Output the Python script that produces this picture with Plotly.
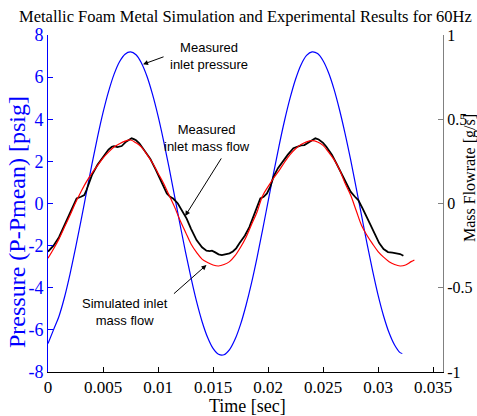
import plotly.graph_objects as go

# ---------------- data ----------------
t_pressure = [0.0, 0.0005, 0.001, 0.0015, 0.002, 0.0025, 0.003, 0.0035, 0.004, 0.0045,
              0.005, 0.0055, 0.006, 0.0065, 0.007, 0.0075, 0.008, 0.0085, 0.009, 0.0095,
              0.010, 0.0105, 0.011, 0.0115, 0.012, 0.0125, 0.013, 0.0135, 0.014, 0.0145,
              0.015, 0.0155, 0.016, 0.0165, 0.017, 0.0175, 0.018, 0.0185, 0.019, 0.0195,
              0.020, 0.0205, 0.021, 0.0215, 0.022, 0.0225, 0.023, 0.0235, 0.024, 0.0245,
              0.025, 0.0255, 0.026, 0.0265, 0.027, 0.0275, 0.028, 0.0285, 0.029, 0.0295,
              0.030, 0.0305, 0.031, 0.0315, 0.032, 0.0322]
pressure = [-6.65, -6.0, -5.35, -4.45, -3.35, -2.12, -0.81, 0.54, 1.88, 3.15,
            4.31, 5.31, 6.13, 6.73, 7.09, 7.20, 7.06, 6.66, 6.03, 5.18,
            4.16, 2.99, 1.71, 0.36, -0.99, -2.31, -3.53, -4.65, -5.60, -6.35,
            -6.88, -7.16, -7.18, -6.94, -6.45, -5.74, -4.83, -3.77, -2.57, -1.26,
            0.09, 1.44, 2.74, 3.94, 5.00, 5.90, 6.59, 7.03, 7.20, 7.12,
            6.78, 6.21, 5.42, 4.44, 3.32, 2.09, 0.77, -0.58, -1.92, -3.19,
            -4.35, -5.34, -6.14, -6.72, -7.08, -7.12]

t_sim = [0.0, 0.0005, 0.001, 0.0015, 0.002, 0.0025, 0.003, 0.0035, 0.004, 0.0045,
         0.005, 0.0055, 0.006, 0.0065, 0.007, 0.0075, 0.008, 0.0085, 0.009, 0.0095,
         0.010, 0.0105, 0.011, 0.0115, 0.012, 0.0125, 0.013, 0.0135, 0.014, 0.0145,
         0.015, 0.0155, 0.016, 0.0165, 0.017, 0.0175, 0.018, 0.0185, 0.019, 0.0195,
         0.020, 0.0205, 0.021, 0.0215, 0.022, 0.0225, 0.023, 0.0235, 0.024, 0.0245,
         0.025, 0.0255, 0.026, 0.0265, 0.027, 0.0275, 0.028, 0.0285, 0.029, 0.0295,
         0.030, 0.0305, 0.031, 0.0315, 0.032, 0.0325, 0.033, 0.0333]
sim_flow = [-0.325, -0.27, -0.21, -0.14, -0.07, 0.005, 0.07, 0.13, 0.18, 0.225,
            0.27, 0.305, 0.335, 0.355, 0.37, 0.377, 0.36, 0.335, 0.29, 0.24,
            0.18, 0.12, 0.05, -0.02, -0.10, -0.17, -0.24, -0.29, -0.33, -0.35,
            -0.365, -0.371, -0.362, -0.345, -0.31, -0.26, -0.20, -0.125, -0.05, 0.045,
            0.10, 0.15, 0.195, 0.245, 0.29, 0.325, 0.35, 0.366, 0.373, 0.365,
            0.345, 0.305, 0.26, 0.20, 0.12, 0.05, -0.04, -0.13, -0.19, -0.24,
            -0.285, -0.318, -0.345, -0.362, -0.371, -0.365, -0.345, -0.335]

t_meas = [0.0, 0.0005, 0.001, 0.0015, 0.002, 0.0023, 0.0026, 0.003, 0.0033, 0.0035,
          0.0038, 0.004, 0.0045, 0.005, 0.0055, 0.0058, 0.006, 0.0063, 0.0067, 0.0071,
          0.0074, 0.0076, 0.0078, 0.008, 0.0083, 0.0088, 0.0093, 0.0098, 0.0103, 0.0108,
          0.0111, 0.0114, 0.0118, 0.0122, 0.0126, 0.013, 0.0135, 0.014, 0.0144, 0.0147,
          0.0149, 0.0152, 0.0155, 0.0158, 0.0161, 0.0165, 0.0168, 0.0171, 0.0174, 0.0179,
          0.0183, 0.0187, 0.019, 0.0193, 0.0196, 0.0199, 0.0202, 0.0205, 0.0209, 0.0214,
          0.0218, 0.0223, 0.0227, 0.023, 0.0233, 0.0236, 0.024, 0.0243, 0.0246, 0.025,
          0.0253, 0.0258, 0.0262, 0.0265, 0.027, 0.0275, 0.0279, 0.0282, 0.0286, 0.029,
          0.0293, 0.0297, 0.0301, 0.0305, 0.0309, 0.0313, 0.0317, 0.032, 0.0323]
meas_flow = [-0.286, -0.25, -0.20, -0.13, -0.05, -0.01, 0.03, 0.04, 0.05, 0.08,
             0.14, 0.17, 0.23, 0.278, 0.32, 0.337, 0.34, 0.335, 0.341, 0.367,
             0.38, 0.387, 0.382, 0.375, 0.357, 0.31, 0.265, 0.20, 0.13, 0.06,
             0.04, 0.028, 0.0, -0.045, -0.09, -0.15, -0.217, -0.26, -0.28, -0.283,
             -0.28, -0.29, -0.302, -0.306, -0.302, -0.296, -0.285, -0.266, -0.236, -0.19,
             -0.14, -0.07, -0.01, 0.03, 0.04, 0.06, 0.10, 0.159, 0.21, 0.258,
             0.29, 0.328, 0.338, 0.345, 0.347, 0.36, 0.378, 0.387, 0.38, 0.36,
             0.337, 0.29, 0.24, 0.199, 0.13, 0.07, 0.04, 0.02, -0.03, -0.09,
             -0.125, -0.18, -0.235, -0.27, -0.288, -0.292, -0.295, -0.30, -0.31]

x_tickvals = [0, 0.005, 0.01, 0.015, 0.02, 0.025, 0.03, 0.035]
x_ticktext = ["0", "0.005", "0.01", "0.015", "0.02", "0.025", "0.03", "0.035"]
y_tickvals = [-8, -6, -4, -2, 0, 2, 4, 6, 8]
y_ticktext = ["-8", "-6", "-4", "-2", "0", "2", "4", "6", "8"]
y2_tickvals = [-1, -0.5, 0, 0.5, 1]
y2_ticktext = ["-1", "-0.5", "0", "0.5", "1"]

SERIF = "Liberation Serif, Times New Roman, serif"
SANS = "Liberation Sans, Arial, sans-serif"

fig = go.Figure()
fig.add_trace(go.Scatter(x=t_pressure, y=pressure, mode="lines", line=dict(color="#0000FF", width=1.2, shape="spline"),
                         name="Measured inlet pressure", yaxis="y"))
fig.add_trace(go.Scatter(x=t_meas, y=meas_flow, mode="lines", line=dict(color="#000000", width=1.8),
                         name="Measured inlet mass flow", yaxis="y2"))
fig.add_trace(go.Scatter(x=t_sim, y=sim_flow, mode="lines", line=dict(color="#FF0000", width=1.2, shape="spline"),
                         name="Simulated inlet mass flow", yaxis="y2"))

fig.update_layout(
    width=477, height=416,
    margin=dict(l=48, r=34, t=35, b=44),
    paper_bgcolor="white", plot_bgcolor="white",
    showlegend=False,
    xaxis=dict(range=[0, 0.0359], tickvals=x_tickvals, ticktext=x_ticktext, automargin=False,
               ticks="inside", ticklen=5, tickcolor="#000000", showline=True, linecolor="#000000",
               linewidth=1, showgrid=False, zeroline=False, mirror=False,
               tickfont=dict(family=SERIF, size=17, color="#000000")),
    yaxis=dict(range=[-8, 8], tickvals=y_tickvals, ticktext=y_ticktext, automargin=False,
               ticks="inside", ticklen=5, tickcolor="#0000FF", showline=True, linecolor="#0000FF",
               linewidth=1, showgrid=False, zeroline=False,
               tickfont=dict(family=SERIF, size=18, color="#0000FF")),
    yaxis2=dict(range=[-1, 1], tickvals=y2_tickvals, ticktext=y2_ticktext, overlaying="y", side="right",
                automargin=False,
                ticks="inside", ticklen=5, tickcolor="#808080", showline=True, linecolor="#808080",
                linewidth=1, showgrid=False, zeroline=False,
                tickfont=dict(family=SERIF, size=16, color="#000000")),
)

annotations = [
    dict(text="Metallic Foam Metal Simulation and Experimental Results for 60Hz", xref="paper", yref="paper",
         x=(245 - 48) / 395, y=(372 - 17) / 337, xanchor="center", yanchor="middle", showarrow=False,
         font=dict(family=SERIF, size=16.5, color="#000000")),
    dict(text="Pressure (P-Pmean) [psig]", xref="paper", yref="paper", textangle=-90,
         x=(17 - 48) / 395, y=(372 - 222) / 337, xanchor="center", yanchor="middle", showarrow=False,
         font=dict(family=SERIF, size=24, color="#0000FF")),
    dict(text="Mass Flowrate [g/s]", xref="paper", yref="paper", textangle=-90,
         x=(470 - 48) / 395, y=(372 - 178) / 337, xanchor="center", yanchor="middle", showarrow=False,
         font=dict(family=SERIF, size=16, color="#000000")),
    dict(text="Time [sec]", xref="paper", yref="paper",
         x=(247 - 48) / 395, y=(372 - 406) / 337, xanchor="center", yanchor="middle", showarrow=False,
         font=dict(family=SERIF, size=18, color="#000000")),
    dict(text="Measured<br>inlet pressure", xref="x", yref="y", x=0.01461, y=7.0,
         xanchor="center", yanchor="middle", showarrow=False, font=dict(family=SANS, size=13, color="#000000")),
    dict(text="Measured<br>inlet mass flow", xref="x", yref="y", x=0.01443, y=3.10,
         xanchor="center", yanchor="middle", showarrow=False, font=dict(family=SANS, size=13, color="#000000")),
    dict(text="Simulated inlet<br>mass flow", xref="x", yref="y", x=0.00702, y=-5.15,
         xanchor="center", yanchor="middle", showarrow=False, font=dict(family=SANS, size=13, color="#000000")),
    dict(text="", xref="x", yref="y", x=0.00864, y=6.61, ax=22, ay=-8, showarrow=True,
         arrowhead=2, arrowsize=1, arrowwidth=1, arrowcolor="#000000"),
    dict(text="", xref="x", yref="y", x=0.01247, y=-0.59, ax=37, ay=-59, showarrow=True,
         arrowhead=2, arrowsize=1, arrowwidth=1, arrowcolor="#000000"),
    dict(text="", xref="x", yref="y", x=0.0144, y=-2.92, ax=-34, ay=30, showarrow=True,
         arrowhead=2, arrowsize=1, arrowwidth=1, arrowcolor="#000000"),
]
fig.update_layout(annotations=annotations)

fig.write_html("out.html", config={"displayModeBar": False},
               post_script="document.body.style.margin='0';document.body.style.overflow='hidden';")
